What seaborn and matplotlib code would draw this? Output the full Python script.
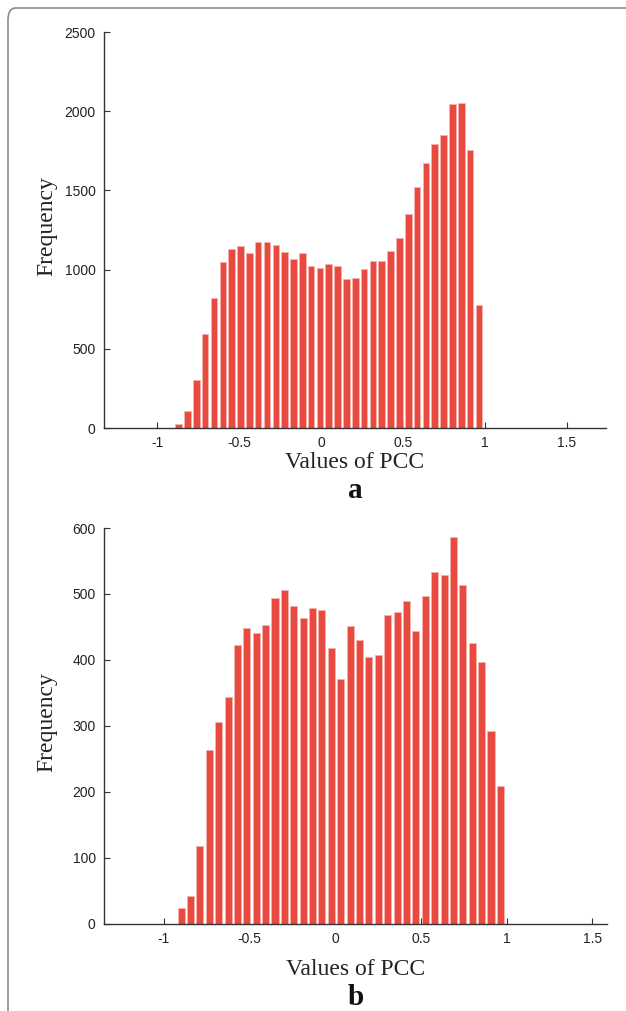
import matplotlib.pyplot as plt
import numpy as np
import pandas as pd
import seaborn as sns
from matplotlib.patches import FancyBboxPatch

# counts per bin (35 bins each)
counts_a = [25, 105, 304, 593, 822, 1046, 1128, 1147, 1103, 1172, 1172, 1155,
            1111, 1067, 1103, 1023, 1010, 1038, 1023, 941, 948, 1004, 1052,
            1052, 1117, 1201, 1354, 1524, 1671, 1795, 1851, 2046, 2050, 1757, 778]
counts_b = [23, 42, 118, 263, 305, 343, 423, 448, 441, 453, 494, 506, 481,
            464, 478, 476, 418, 371, 451, 430, 404, 408, 468, 473, 489, 444,
            497, 533, 528, 587, 514, 425, 396, 292, 209]
range_a = (-0.895, 0.991)
range_b = (-0.925, 0.991)
xticks = [-1, -0.5, 0, 0.5, 1, 1.5]
xtick_labels = ['-1', '-0.5', '0', '0.5', '1', '1.5']
yticks_a = [0, 500, 1000, 1500, 2000, 2500]
yticks_b = [0, 100, 200, 300, 400, 500, 600]

sns.set_style('white')
plt.rcParams['font.family'] = ['Liberation Sans', 'DejaVu Sans']

fig = plt.figure(figsize=(6.26, 10.11), dpi=100)
W, H = 626, 1011

# rounded frame of the figure panel
frame = FancyBboxPatch((8 / W, -0.05), 1.2, 1 - 8 / H + 0.05,
                       boxstyle='round,pad=0,rounding_size=0.012',
                       transform=fig.transFigure, fill=False,
                       edgecolor='#8c8c8c', linewidth=1.2)
fig.patches.append(frame)

red = '#e84a40'


def panel(rect, counts, rng, xlim, ylim, yticks, letter, xlab_y, let_y):
    ax = fig.add_axes(rect)
    n = len(counts)
    edges = np.linspace(rng[0], rng[1], n + 1)
    df = pd.DataFrame({'pcc': (edges[:-1] + edges[1:]) / 2, 'n': counts})
    sns.histplot(data=df, x='pcc', weights='n', bins=n, binrange=rng,
                 shrink=0.75, color=red, edgecolor='#f5b3ad', linewidth=0.6,
                 alpha=1, ax=ax)
    ax.set_xlim(*xlim)
    ax.set_ylim(*ylim)
    ax.set_xticks(xticks)
    ax.set_xticklabels(xtick_labels)
    ax.set_yticks(yticks)
    for s in ['top', 'right']:
        ax.spines[s].set_visible(False)
    for s in ['left', 'bottom']:
        ax.spines[s].set_color('#333333')
        ax.spines[s].set_linewidth(1.0)
    ax.tick_params(direction='in', length=4, width=0.8, color='#333333',
                   labelsize=10, labelcolor='#222222', pad=6,
                   bottom=True, left=True)
    ax.set_ylabel('Frequency', family=['Liberation Serif'], fontsize=17,
                  color='#222222', va='center')
    ax.yaxis.set_label_coords(-57 / rect[2] / W, 0.51)
    ax.set_xlabel('Values of PCC', family=['Liberation Serif'], fontsize=17,
                  color='#222222', va='center')
    ax.xaxis.set_label_coords(0.5, xlab_y)
    ax.text(0.5, let_y, letter, transform=ax.transAxes, ha='center',
            va='center', family=['Liberation Serif'], fontweight='bold',
            fontsize=21, color='#111111')
    return ax


panel([104 / W, 1 - 428 / H, 502 / W, 396 / H], counts_a, range_a,
      (-1.324, 1.74), (0, 2500), yticks_a, 'a', -0.088, -0.159)
panel([104 / W, 1 - 923.5 / H, 503 / W, 395.5 / H], counts_b, range_b,
      (-1.347, 1.585), (0, 600), yticks_b, 'b', -0.117, -0.188)

fig.savefig('out.png', dpi=100)
